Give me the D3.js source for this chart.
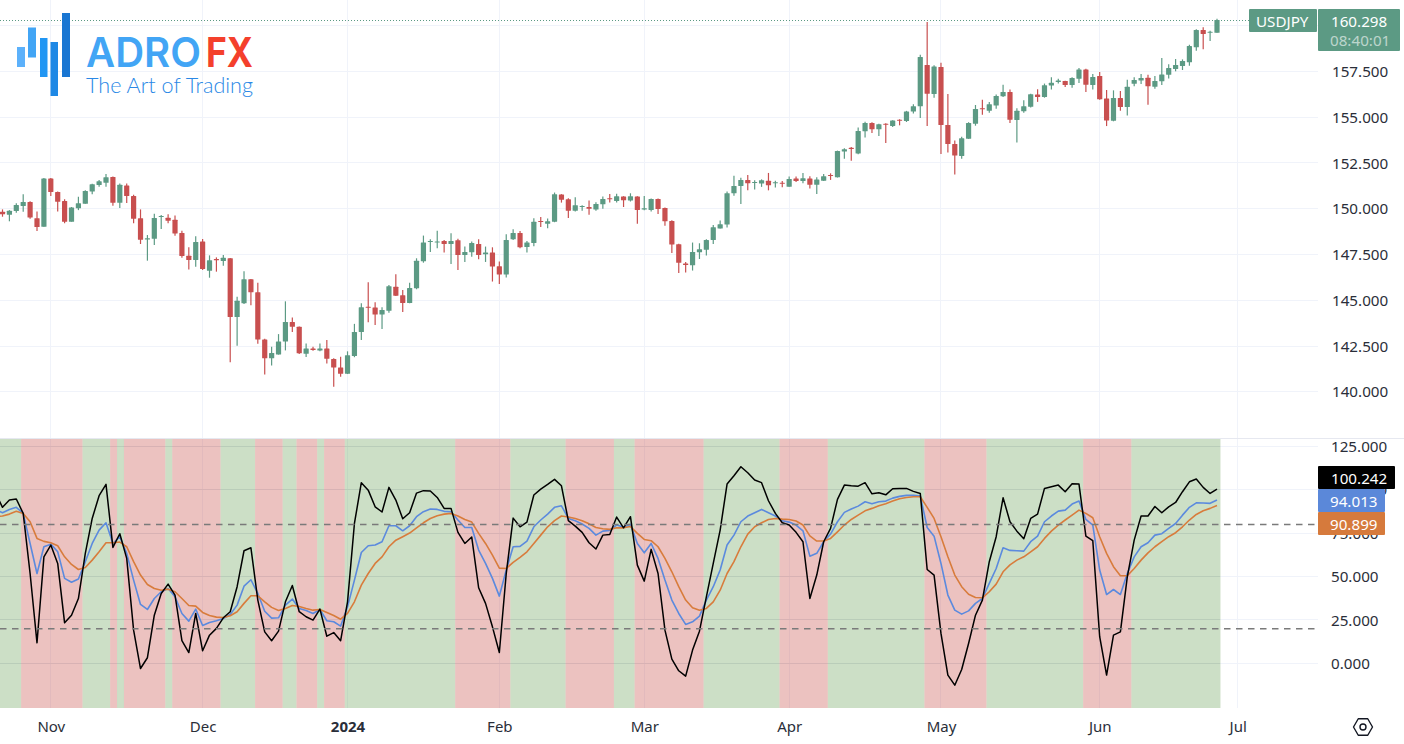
<!DOCTYPE html>
<html><head><meta charset="utf-8">
<script src="https://cdn.jsdelivr.net/npm/d3@7"></script>
<style>html,body{margin:0;padding:0;background:#fff;overflow:hidden}svg{display:block}text{font-family:"Noto Sans",sans-serif}</style>
</head><body><div id="chart"></div>
<script>
const symbol="USDJPY", lastPrice="160.298", countdown="08:40:01";
const opens=[149.83,149.67,149.87,150.14,150.36,149.47,149.01,151.65,150.91,150.42,149.29,150.02,150.27,150.94,151.29,151.42,151.73,150.32,151.27,150.69,149.47,148.32,148.36,149.54,149.51,149.40,148.67,147.43,147.19,148.20,146.61,147.25,147.14,147.29,144.08,144.83,146.14,145.43,142.86,141.83,142.04,142.75,143.81,143.55,142.08,142.37,142.26,142.37,141.79,141.33,140.99,
141.96,143.27,144.65,144.60,144.22,144.43,145.74,145.27,144.85,145.65,147.13,148.18,148.15,148.24,148.07,148.27,147.47,147.62,148.07,147.51,147.60,146.85,146.40,148.33,148.67,147.91,148.13,149.33,149.18,149.29,150.77,150.51,149.88,150.09,150.09,149.95,150.24,150.57,150.42,150.66,150.44,150.66,149.95,149.93,150.53,150.04,149.33,148.06,147.00,146.91,147.62,
147.75,148.29,148.91,149.13,150.84,151.24,151.57,151.40,151.37,151.53,151.39,151.42,151.20,151.64,151.51,151.64,151.30,151.53,151.84,151.71,153.12,153.32,153.01,154.23,154.68,154.33,154.64,154.52,154.86,154.79,155.30,155.59,157.85,156.26,157.74,154.57,153.53,152.88,153.82,154.64,155.48,155.34,155.63,156.14,156.37,154.84,155.32,155.57,156.23,156.10,
156.73,156.91,156.97,156.75,157.10,157.60,156.75,157.24,156.02,154.80,156.04,155.55,156.82,157.00,157.15,156.66,156.95,157.31,157.62,157.79,158.00,158.82,159.75,159.61,159.61];
const closes=[149.69,149.89,150.20,150.36,149.52,149.00,151.65,150.91,150.38,149.29,150.07,150.29,150.96,151.33,151.49,151.71,150.32,151.31,150.69,149.45,148.30,148.38,149.49,149.60,149.34,148.65,147.41,147.19,148.18,146.70,147.18,147.18,147.32,144.08,144.97,146.14,145.43,142.86,141.83,142.12,142.75,143.81,143.55,142.10,142.37,142.28,142.37,141.81,141.33,140.99,141.99,
143.27,144.62,144.62,144.22,144.47,145.76,145.25,144.85,145.67,147.15,148.15,148.24,148.20,148.07,148.24,147.47,147.64,148.13,147.47,147.60,146.84,146.40,148.29,148.67,147.89,148.15,149.29,149.27,149.31,150.79,150.48,149.88,150.18,150.15,150.00,150.26,150.53,150.51,150.68,150.46,150.68,149.93,150.02,150.53,149.98,149.31,148.04,147.04,146.93,147.64,147.78,
148.29,148.98,149.15,150.84,151.24,151.57,151.39,151.46,151.55,151.28,151.44,151.37,151.62,151.51,151.66,151.31,151.59,151.77,151.79,153.15,153.24,153.26,154.24,154.68,154.33,154.61,154.59,154.81,154.83,155.30,155.59,158.28,156.28,157.76,154.57,153.53,152.90,153.84,154.68,155.44,155.44,155.70,156.15,156.37,154.86,155.34,155.59,156.25,156.10,156.74,
156.88,157.00,156.75,157.13,157.60,156.77,157.19,155.98,154.82,156.04,155.55,156.66,157.02,157.13,156.68,156.97,157.33,157.68,157.84,158.06,158.88,159.75,159.53,159.66,160.298];
const highs=[149.96,149.92,150.29,150.78,150.40,149.85,151.67,151.67,150.94,150.51,150.09,150.65,151.00,151.36,151.56,151.89,151.76,151.38,151.38,150.76,149.96,148.56,149.72,149.65,149.69,149.63,148.80,147.89,148.50,148.34,147.45,147.34,147.47,147.30,145.19,146.58,146.16,145.96,142.90,142.46,143.15,144.94,144.06,143.57,142.64,142.46,142.64,142.83,141.83,141.92,142.21,
143.71,144.83,145.98,144.89,144.62,145.83,146.42,145.56,145.96,147.29,148.53,148.33,148.80,148.29,148.66,148.36,147.93,148.20,148.33,147.93,147.89,147.11,148.60,148.87,148.78,148.24,149.47,149.55,149.46,150.88,150.79,150.57,150.62,150.18,150.44,150.35,150.66,150.80,150.82,150.68,150.84,150.68,150.69,150.55,150.55,150.06,149.37,148.09,147.09,148.15,148.11,
148.33,149.11,149.35,150.93,151.80,151.69,151.84,151.55,151.60,151.95,151.53,151.51,151.75,151.75,151.95,151.77,151.71,151.89,151.93,153.17,153.30,153.37,154.43,154.75,154.72,154.64,154.66,154.83,154.88,155.34,155.70,158.41,160.19,157.83,157.97,156.26,153.72,153.93,154.72,155.66,155.94,155.83,156.23,156.76,156.50,155.48,155.92,156.28,156.52,156.83,
157.17,157.10,156.99,157.17,157.68,157.64,157.35,157.46,156.48,156.46,156.42,157.04,157.17,157.35,157.31,157.24,158.22,157.88,158.17,158.15,158.95,159.79,159.90,159.72,160.37];
const lows=[149.56,149.31,149.78,149.83,149.45,148.78,149.01,150.69,149.85,149.20,149.29,149.92,150.27,150.78,151.20,151.20,150.16,150.03,150.31,149.20,148.07,147.16,148.01,148.89,149.20,148.52,147.32,146.68,146.83,146.65,146.23,146.56,146.88,141.62,142.52,144.79,144.72,142.63,140.95,141.44,142.03,142.26,143.26,142.06,141.90,142.24,142.21,141.55,140.28,140.82,140.97,
141.89,142.83,143.80,143.65,143.43,144.32,145.23,144.36,144.83,145.60,147.05,147.64,147.84,147.60,146.98,146.65,147.09,147.38,147.24,147.09,146.02,145.89,146.24,148.29,147.84,147.60,147.95,149.00,148.93,149.26,150.33,149.49,149.84,149.88,149.67,149.88,150.00,150.33,150.33,150.09,150.39,149.18,149.91,149.84,149.71,149.07,147.58,146.49,146.51,146.62,147.25,
147.44,148.07,148.91,148.97,150.71,150.26,151.00,151.04,151.19,151.00,151.15,151.17,151.19,151.46,151.39,151.10,150.80,151.51,151.57,151.70,152.73,152.61,152.97,153.88,154.13,153.97,153.59,154.46,154.55,154.73,155.19,154.95,154.52,156.06,152.99,153.06,151.86,152.73,153.81,154.53,155.13,155.24,155.46,156.10,154.68,153.61,155.24,155.52,155.83,156.06,
156.51,156.84,156.64,156.60,156.86,156.37,156.51,155.95,154.51,154.77,155.35,155.09,156.69,156.80,155.67,156.55,156.75,157.11,157.50,157.57,157.80,158.62,158.71,159.15,159.61];
// indicator lines: first value belongs to the bar just left of the visible window
const fastLine=[97.8,89.8,94.0,94.6,86.3,51.7,11.8,61.3,68.1,57.5,23.3,27.7,37.3,63.3,83.4,96.5,103.0,66.7,74.6,60.4,19.1,-3.0,3.2,27.7,40.2,45.6,39.3,13.0,6.2,28.7,7.2,16.2,20.1,26.2,29.7,44.1,64.8,66.5,36.4,18.1,13.0,18.5,35.4,44.8,29.7,26.8,24.9,31.2,15.6,17.7,13.0,35.4,
80.5,104.0,99.7,90.1,87.1,101.3,94.0,83.2,86.7,98.0,99.4,99.2,95.5,89.2,89.2,75.4,69.0,72.7,43.5,34.5,21.0,6.2,51.7,83.6,78.6,81.3,96.9,100.3,103.0,105.9,102.2,82.1,79.0,75.4,69.4,65.8,73.8,74.2,84.2,78.0,84.4,56.5,47.3,65.6,51.7,19.1,2.4,-4.3,-7.4,7.6,18.5,
38.3,57.5,76.7,103.2,108.0,113.2,109.7,105.5,104.0,93.6,86.3,80.9,79.6,75.4,70.0,37.3,50.8,70.0,77.7,94.4,102.6,102.2,102.0,104.0,97.6,98.2,97.0,100.5,100.7,100.7,99.0,97.8,54.0,50.8,17.2,-6.8,-12.6,-3.6,11.4,27.7,36.4,58.5,72.9,95.3,81.5,76.1,71.7,83.4,85.9,100.7,
101.7,102.6,98.8,103.4,103.2,73.2,70.6,15.3,-6.8,16.2,18.1,49.8,70.9,84.8,84.8,90.3,86.7,90.1,92.6,98.8,104.5,106.1,101.3,97.8,100.242];
const midLine=[88.6,86.7,88.6,89.8,86.3,69.0,51.7,67.1,68.6,64.2,48.9,46.7,48.5,58.5,69.0,76.7,80.9,69.0,72.9,63.3,47.9,33.9,31.0,37.3,41.2,43.1,38.3,28.7,24.3,31.2,21.8,23.5,24.5,25.8,28.1,33.5,44.4,48.1,40.2,30.0,26.0,26.2,33.5,37.0,31.6,30.4,28.7,31.0,24.5,23.9,21.4,32.5,
47.9,63.8,67.7,68.1,70.0,79.2,79.2,76.3,79.2,84.4,87.3,88.8,88.6,87.5,87.3,82.5,78.2,78.2,65.2,57.5,48.9,38.7,53.7,67.1,67.3,70.4,78.6,82.5,85.9,89.8,90.7,83.4,82.1,80.2,77.7,73.8,76.1,76.5,79.6,78.4,80.0,69.0,63.6,69.0,60.4,47.9,36.4,28.7,22.4,23.9,27.2,
36.4,44.1,53.7,68.1,73.8,81.5,84.8,86.7,88.6,86.7,84.8,82.1,81.3,79.6,76.3,61.7,63.3,70.0,74.4,81.5,86.9,88.8,90.5,93.0,91.9,93.0,93.4,95.1,96.1,96.7,96.7,96.3,78.2,73.2,57.5,39.3,30.6,28.3,30.2,34.5,37.3,46.0,54.6,66.5,65.0,64.8,64.6,70.0,73.2,81.5,
84.8,87.6,88.2,91.7,93.4,82.8,79.6,53.7,39.6,42.5,39.6,51.7,61.3,67.1,69.4,73.8,74.6,77.7,80.5,85.3,89.8,92.4,92.3,92.1,94.013];
const slowLine=[84.4,84.8,85.9,87.5,86.3,81.5,71.9,70.2,69.4,67.7,61.3,56.9,54.0,55.2,59.4,64.2,69.4,69.4,69.8,67.1,58.5,50.8,45.4,43.1,42.1,42.7,41.2,37.3,33.3,32.9,29.3,27.5,26.6,26.4,27.4,29.7,34.5,38.9,38.9,35.4,32.2,30.4,31.6,33.3,32.7,31.6,30.6,31.0,29.3,27.5,25.4,28.7,
35.4,45.0,51.7,57.5,61.3,67.1,70.9,72.9,75.0,78.0,80.9,83.4,85.0,85.9,86.3,84.8,82.8,81.3,74.8,69.0,62.3,54.8,54.6,58.1,61.0,64.2,69.0,73.8,78.6,82.1,84.8,84.2,83.4,82.1,80.3,78.2,77.5,77.1,78.0,78.0,78.8,74.8,71.3,70.6,67.1,60.4,52.7,44.1,36.4,32.0,30.6,
31.6,35.4,42.1,51.7,58.5,67.1,74.4,78.6,80.9,82.8,83.4,83.0,82.8,81.9,79.6,73.4,70.4,70.4,71.9,75.7,79.6,82.8,85.3,87.8,89.2,90.7,91.9,93.4,94.7,95.5,95.9,95.9,89.8,83.4,72.9,61.3,50.8,44.1,39.8,37.9,37.7,41.2,45.6,52.7,56.7,59.4,61.3,64.2,67.1,71.9,
76.1,79.6,82.5,85.3,88.2,86.3,83.8,72.9,63.3,55.6,50.4,50.4,54.6,59.4,63.6,67.1,70.0,72.9,75.2,78.6,82.5,85.7,87.8,89.2,90.899];
const bandEdges=[2.7,11.6,15.6,16.6,17.6,23.6,24.6,31.6,36.6,40.6,42.6,45.6,46.6,49.6,65.6,73.6,81.6,88.6,91.6,101.6,112.6,119.6,133.6,142.6,156.6,163.6,176.5];
const priceTicks=[140,142.5,145,147.5,150,152.5,155,157.5];
const indicatorTicks=[0,25,50,75,100,125];
const levels=[20,80];
const monthBars=[7,29,50,72,93,114,136,159,179];
const monthLabels=["Nov","Dec","2024","Feb","Mar","Apr","May","Jun","Jul"];

const W=1404,H=744,plotR=1318;
const GREEN="#5c9a84",RED="#c84f4f",GRID="#f0f3fa";
const svg=d3.select("#chart").append("svg").attr("width",W).attr("height",H);
const x=d3.scaleLinear().domain([0,176]).range([2.5,1217]);
const yP=d3.scaleLinear().domain([140,157.5]).range([391.8,71.3]);
const yI=d3.scaleLinear().domain([0,125]).range([663.3,446.2]);
const paneTop=439,paneBot=708;
svg.append("defs").append("clipPath").attr("id","plot").append("rect").attr("x",0).attr("y",0).attr("width",plotR).attr("height",paneBot);

// grid
const grid=svg.append("g").attr("stroke",GRID).attr("stroke-width",1).attr("shape-rendering","crispEdges");
grid.selectAll(".gp").data(priceTicks.concat([160])).join("line").attr("x1",0).attr("x2",plotR).attr("y1",d=>yP(d)).attr("y2",d=>yP(d));
grid.selectAll(".gi").data(indicatorTicks).join("line").attr("class","gi").attr("x1",0).attr("x2",plotR).attr("y1",d=>yI(d)).attr("y2",d=>yI(d));
grid.selectAll(".gv").data(monthBars).join("line").attr("class","gv").attr("x1",d=>x(d)).attr("x2",d=>x(d)).attr("y1",0).attr("y2",paneBot);

// bands
const edges=[-0.4].concat(bandEdges);
svg.append("g").selectAll("rect").data(d3.pairs(edges)).join("rect")
 .attr("x",d=>Math.max(0,x(d[0]))).attr("width",d=>x(d[1])-Math.max(0,x(d[0])))
 .attr("y",paneTop).attr("height",paneBot-paneTop)
 .attr("fill",(d,i)=>i%2?"#c9574f":"#5f9c4f").attr("fill-opacity",(d,i)=>i%2?0.36:0.32);
svg.append("g").attr("stroke","#000").attr("stroke-opacity",0.045).attr("shape-rendering","crispEdges").selectAll("line").data(indicatorTicks).join("line").attr("x1",0).attr("x2",x(176.5)).attr("y1",d=>yI(d)).attr("y2",d=>yI(d));
svg.append("line").attr("x1",0).attr("x2",W).attr("y1",438.5).attr("y2",438.5).attr("stroke","#e6e8f0");

// last price dotted
svg.append("line").attr("x1",0).attr("x2",1249).attr("y1",20.5).attr("y2",20.5).attr("stroke",GREEN).attr("stroke-dasharray","1 2");

// candles
const g=svg.append("g").attr("clip-path","url(#plot)");
const bars=d3.range(opens.length);
const col=i=>closes[i]>=opens[i]?GREEN:RED;
g.selectAll(".w").data(bars).join("line").attr("x1",x).attr("x2",x).attr("y1",i=>yP(highs[i])).attr("y2",i=>yP(lows[i])).attr("stroke",col).attr("stroke-width",1.2);
g.selectAll(".b").data(bars).join("rect").attr("class","b").attr("x",i=>x(i)-2.6).attr("width",5.2)
 .attr("y",i=>Math.min(yP(opens[i]),yP(closes[i]))).attr("height",i=>Math.max(1,Math.abs(yP(opens[i])-yP(closes[i])))).attr("fill",col).attr("rx",0.5);

// level lines
svg.append("g").selectAll("line").data(levels).join("line").attr("x1",0).attr("x2",plotR).attr("y1",d=>yI(d)+0.2).attr("y2",d=>yI(d)+0.2)
 .attr("stroke","#7a7a7a").attr("stroke-width",1.4).attr("stroke-dasharray","6.5 5.5");

// indicator lines
const line=d3.line().x((d,i)=>x(i-1)).y(d=>yI(d));
[[midLine,"#5b8ade",1.6],[slowLine,"#d87c3c",1.6],[fastLine,"#000",1.5]].forEach(([a,c,w])=>{
  g.append("path").attr("d",line(a)).attr("fill","none").attr("stroke",c).attr("stroke-width",w).attr("stroke-linejoin","round");
});

// axes
const AX="#2a2e39",AF="15.2px";
const style=s=>{s.select(".domain").remove();s.selectAll(".tick line").remove();s.selectAll("text").attr("fill",AX).style("font-size",AF).style("font-family",'"Noto Sans",sans-serif').attr("dy","0.34em");};
svg.append("g").attr("transform",`translate(1332,0)`).call(d3.axisRight(yP).tickValues(priceTicks).tickFormat(d3.format(".3f")).tickSize(0).tickPadding(0)).call(style);
svg.append("g").attr("transform",`translate(1331,0)`).call(d3.axisRight(yI).tickValues(indicatorTicks).tickFormat(d3.format(".3f")).tickSize(0).tickPadding(0)).call(style);
const ax=svg.append("g").attr("transform",`translate(0,718)`).call(d3.axisBottom(x).tickValues(monthBars).tickFormat((d,i)=>monthLabels[i]).tickSize(0).tickPadding(0)).call(style);
ax.selectAll("text").style("font-size","15px").attr("dy","0.9em").style("font-weight",(d,i)=>monthLabels[i]==="2024"?"700":"400");

// tags
function tag(x0,y0,w,h,fill,r){svg.append("rect").attr("x",x0).attr("y",y0).attr("width",w).attr("height",h).attr("fill",fill).attr("rx",r||1);}
function label(tx,ty,s,fill,op,size){svg.append("text").attr("x",tx).attr("y",ty).text(s).attr("fill",fill).attr("fill-opacity",op||1).style("font-size",size||"15.2px");}
tag(1249,9,68,23,GREEN);label(1256,26.5,symbol,"#fff");
tag(1318,9,82,42,GREEN);label(1331,26.5,lastPrice,"#fff");label(1330,46,countdown,"#fff",0.6);
tag(1318,466,77,23,"#000");label(1331,483.5,fastLine[fastLine.length-1].toFixed(3),"#fff");
tag(1318,489,67,23,"#5b88d9");label(1330,506.5,midLine[midLine.length-1].toFixed(3),"#fff");
tag(1318,512,67,23,"#d67a3c");label(1330,529.5,slowLine[slowLine.length-1].toFixed(3),"#fff");

// settings icon
const cx=1363,cy=727;
svg.append("path").attr("d",d3.line()(d3.range(6).map(k=>[cx+9.5*Math.cos(k*Math.PI/3),cy+9.5*Math.sin(k*Math.PI/3)]))+"Z").attr("fill","none").attr("stroke","#131722").attr("stroke-width",1.4).attr("stroke-linejoin","round");
svg.append("circle").attr("cx",cx).attr("cy",cy).attr("r",3).attr("fill","none").attr("stroke","#131722").attr("stroke-width",1.4);

// logo
const logo=svg.append("g");
[[17,47,8,20,"#5cb1fb"],[28,27.5,8,30,"#42a5f5"],[40,38,7.5,39,"#2196f3"],[50.5,42,7.5,54,"#1e88e5"],[62,13,8,64,"#1976d2"]].forEach(r=>logo.append("rect").attr("x",r[0]).attr("y",r[1]).attr("width",r[2]).attr("height",r[3]).attr("fill",r[4]));
logo.append("text").attr("x",86).attr("y",66.5).text("ADRO").attr("fill","#42a5f5").style("font-family","Inter").style("font-weight",600).style("font-size","41px").attr("textLength",115).attr("lengthAdjust","spacingAndGlyphs");
logo.append("text").attr("x",206).attr("y",66.5).text("FX").attr("fill","#f4402c").style("font-family","Inter").style("font-weight",700).style("font-size","41px").attr("textLength",47).attr("lengthAdjust","spacingAndGlyphs");
logo.append("text").attr("x",86).attr("y",93).text("The Art of Trading").attr("fill","#2a88e6").style("font-family","Lato").style("font-weight",300).style("font-size","22px").attr("textLength",167).attr("lengthAdjust","spacingAndGlyphs");
</script></body></html>
